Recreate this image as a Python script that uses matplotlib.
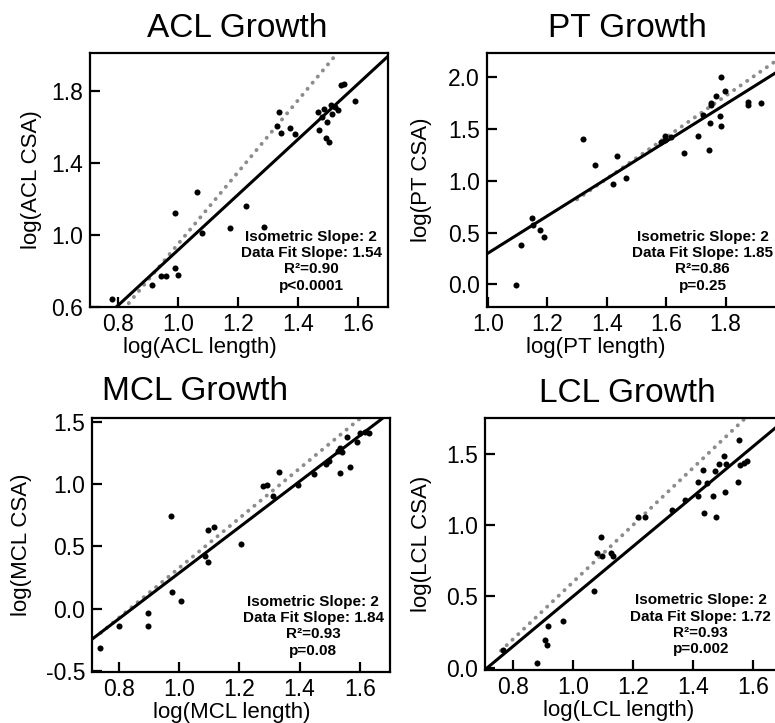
import matplotlib.pyplot as plt
import numpy as np

plt.rcParams['font.family'] = ['Liberation Sans', 'DejaVu Sans']
plt.rcParams['axes.unicode_minus'] = False

W, H = 775, 723

# ---- data (log length, log CSA) ----
acl_x = [0.780, 0.914, 0.944, 0.960, 0.990, 1.000, 0.991, 1.064, 1.080, 1.172, 1.226,
         1.286, 1.337, 1.329, 1.342, 1.374, 1.391, 1.466, 1.488, 1.471, 1.479, 1.496,
         1.494, 1.503, 1.510, 1.515, 1.534, 1.524, 1.590, 1.545, 1.554]
acl_y = [0.644, 0.722, 0.772, 0.772, 0.816, 0.778, 1.120, 1.235, 1.011, 1.035, 1.161,
         1.045, 1.683, 1.604, 1.567, 1.591, 1.558, 1.683, 1.698, 1.582, 1.656, 1.628,
         1.535, 1.517, 1.720, 1.670, 1.693, 1.711, 1.744, 1.832, 1.836]

pt_x = [1.096, 1.111, 1.147, 1.152, 1.175, 1.188, 1.320, 1.362, 1.421, 1.436, 1.466,
        1.584, 1.595, 1.595, 1.617, 1.660, 1.707, 1.724, 1.744, 1.746, 1.752, 1.752,
        1.769, 1.780, 1.783, 1.786, 1.797, 1.875, 1.875, 1.920]
pt_y = [-0.010, 0.377, 0.645, 0.570, 0.529, 0.457, 1.400, 1.151, 0.967, 1.241, 1.028,
        1.377, 1.430, 1.390, 1.420, 1.264, 1.432, 1.635, 1.300, 1.560, 1.748, 1.730,
        1.819, 1.625, 1.528, 2.006, 1.870, 1.764, 1.731, 1.754]

mcl_x = [0.738, 0.801, 0.898, 0.898, 0.973, 0.976, 1.007, 1.097, 1.117, 1.086, 1.097,
         1.206, 1.280, 1.291, 1.333, 1.311, 1.396, 1.449, 1.488, 1.496, 1.526, 1.535,
         1.540, 1.533, 1.566, 1.557, 1.592, 1.601, 1.618, 1.629]
mcl_y = [-0.317, -0.144, -0.037, -0.138, 0.744, 0.129, 0.057, 0.632, 0.658, 0.425, 0.372,
         0.519, 0.984, 0.992, 1.099, 0.900, 0.992, 1.078, 1.158, 1.185, 1.265, 1.287,
         1.259, 1.086, 1.139, 1.380, 1.340, 1.407, 1.420, 1.407]

lcl_x = [0.768, 0.879, 0.907, 0.916, 0.914, 0.968, 1.070, 1.079, 1.093, 1.096, 1.126,
         1.132, 1.218, 1.240, 1.329, 1.373, 1.416, 1.418, 1.432, 1.438, 1.446, 1.466,
         1.473, 1.477, 1.488, 1.504, 1.507, 1.510, 1.551, 1.554, 1.557, 1.570, 1.579]
lcl_y = [0.124, 0.037, 0.194, 0.292, 0.159, 0.330, 0.538, 0.803, 0.919, 0.786, 0.803,
         0.784, 1.055, 1.055, 1.107, 1.177, 1.205, 1.305, 1.388, 1.083, 1.294, 1.205,
         1.381, 1.055, 1.428, 1.481, 1.235, 1.430, 1.305, 1.598, 1.423, 1.435, 1.446]

# fitted line (slope, intercept) and isometric line (slope, intercept, start x)
acl_fit, acl_iso = (1.54, -0.626), (2.0, -1.053, 0.70)
pt_fit, pt_iso = (1.80, -1.50), (2.0, -1.78, 1.30)
mcl_fit, mcl_iso = (1.84, -1.555), (2.0, -1.675, 0.74)
lcl_fit, lcl_iso = (1.75, -1.25), (2.0, -1.40, 0.76)

acl_stats = ["Isometric Slope: 2", "Data Fit Slope: 1.54", "R²=0.90", "p<0.0001"]
pt_stats = ["Isometric Slope: 2", "Data Fit Slope: 1.85", "R²=0.86", "p=0.25"]
mcl_stats = ["Isometric Slope: 2", "Data Fit Slope: 1.84", "R²=0.93", "p=0.08"]
lcl_stats = ["Isometric Slope: 2", "Data Fit Slope: 1.72", "R²=0.93", "p=0.002"]

acl_xticks, acl_yticks = [0.8, 1.0, 1.2, 1.4, 1.6], [0.6, 1.0, 1.4, 1.8]
pt_xticks, pt_yticks = [1.0, 1.2, 1.4, 1.6, 1.8], [0.0, 0.5, 1.0, 1.5, 2.0]
mcl_xticks, mcl_yticks = [0.8, 1.0, 1.2, 1.4, 1.6], [-0.5, 0.0, 0.5, 1.0, 1.5]
lcl_xticks, lcl_yticks = [0.8, 1.0, 1.2, 1.4, 1.6], [0.0, 0.5, 1.0, 1.5]


def px_axes(fig, left, top, right, bottom):
    return fig.add_axes([left / W, 1 - bottom / H, (right - left) / W, (bottom - top) / H])


def draw_panel(ax, x, y, fit, iso, stats, xlim, ylim, xticks, yticks,
               xlabel, ylabel, xlab_x, ylab_x, text_x):
    xs = np.linspace(xlim[0], xlim[1], 50)
    ax.plot(xs, fit[0] * xs + fit[1], color='black', lw=2.2, zorder=3)
    xi = np.linspace(iso[2], xlim[1], 50)
    ax.plot(xi, iso[0] * xi + iso[1], color='#8c8c8c', lw=2.8,
            linestyle=(0, (0.05, 2.0)), dash_capstyle='round', zorder=2)
    ax.scatter(x, y, s=19, color='black', zorder=4, linewidths=0)
    ax.set_xlim(*xlim)
    ax.set_ylim(*ylim)
    ax.set_xticks(xticks)
    ax.set_yticks(yticks)
    ax.set_xticklabels([f"{v:.1f}" for v in xticks])
    ax.set_yticklabels([f"{v:.1f}" for v in yticks])
    ax.tick_params(direction='in', length=7, width=1.6, labelsize=16.5)
    ax.tick_params(axis='x', pad=4)
    ax.tick_params(axis='y', pad=5)
    for sp in ax.spines.values():
        sp.set_linewidth(1.6)
    ax.set_xlabel(xlabel, fontsize=16)
    ax.set_ylabel(ylabel, fontsize=16)
    ax.xaxis.set_label_coords(xlab_x, -0.12)
    ax.yaxis.set_label_coords(ylab_x, 0.5)
    ax.text(text_x, 0.18, "\n".join(stats), transform=ax.transAxes, ha='center',
            va='center', fontsize=11, fontweight='bold', linespacing=1.2)


fig = plt.figure(figsize=(W / 100, H / 100), dpi=100)

ax1 = px_axes(fig, 90, 53, 388, 307)
draw_panel(ax1, acl_x, acl_y, acl_fit, acl_iso, acl_stats, (0.707, 1.70), (0.598, 2.01),
           acl_xticks, acl_yticks, "log(ACL length)", "log(ACL CSA)", 0.37, -0.16, 0.742)

ax2 = px_axes(fig, 487, 53, 785, 307)
draw_panel(ax2, pt_x, pt_y, pt_fit, pt_iso, pt_stats, (0.997, 2.0), (-0.22, 2.235),
           pt_xticks, pt_yticks, "log(PT length)", "log(PT CSA)", 0.366, -0.185, 0.724)

ax3 = px_axes(fig, 92, 418, 390, 672)
draw_panel(ax3, mcl_x, mcl_y, mcl_fit, mcl_iso, mcl_stats, (0.711, 1.70), (-0.51, 1.53),
           mcl_xticks, mcl_yticks, "log(MCL length)", "log(MCL CSA)", 0.47, -0.20, 0.742)

ax4 = px_axes(fig, 485, 418, 783, 670)
draw_panel(ax4, lcl_x, lcl_y, lcl_fit, lcl_iso, lcl_stats, (0.707, 1.70), (-0.015, 1.75),
           lcl_xticks, lcl_yticks, "log(LCL length)", "log(LCL CSA)", 0.45, -0.178, 0.724)

# panel titles
for label, cx, base in [("ACL Growth", 237, 37), ("PT Growth", 627, 37),
                        ("MCL Growth", 195, 400), ("LCL Growth", 627, 402)]:
    fig.text(cx / W, 1 - base / H, label, ha='center', va='baseline', fontsize=24)

fig.savefig("out.png", dpi=100)
